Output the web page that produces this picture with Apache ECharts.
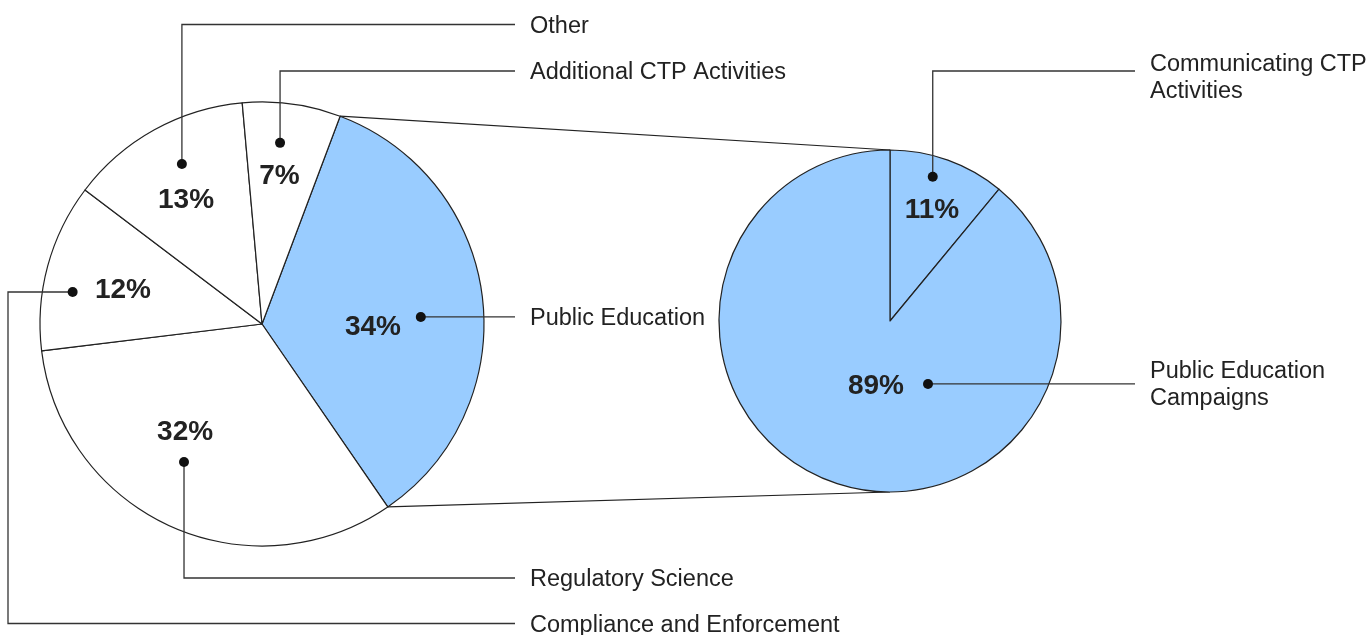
<!DOCTYPE html>
<html>
<head>
<meta charset="utf-8">
<title>CTP spending</title>
<script src="https://cdn.jsdelivr.net/npm/echarts@6/dist/echarts.min.js"></script>
<style>
  html, body { margin: 0; padding: 0; background: #fff; }
  #mainChart { width: 1370px; height: 635px; }
</style>
</head>
<body>
<div id="mainChart"></div>
<script>
// data
var leftNames = ["Public Education", "Regulatory Science", "Compliance and Enforcement", "Other", "Additional CTP Activities"];
var leftValues = [34, 32, 12, 13, 7];
var rightNames = ["Communicating CTP\nActivities", "Public Education\nCampaigns"];
var rightValues = [11, 89];

// layout (not data)
var FONT = "'Liberation Sans', Arial, sans-serif";
var BLUE = "#99ccff";
var leftC = [262, 324], leftR = 222, leftStart = 20.6;   // compass degrees, clockwise from top
var rightC = [890, 321], rightR = 171, rightStart = 0;
// [angle shift from slice middle, radius fraction]
var leftPct = [[8.5, 0.50], [11.2, 0.597], [-1.6, 0.644], [-2.6, 0.653], [-1.05, 0.672]];
var leftDot = [[4.4, 0.716], [5.2, 0.714], [-5.5, 0.865], [2.4, 0.806], [-2.05, 0.82]];
var leftRoute = [{t: "h"}, {t: "v", y: 578}, {t: "lv", x: 8, y: 623.5}, {t: "v", y: 24.5}, {t: "v", y: 71}];
var rightPct = [[0.9, 0.694], [-7.6, 0.39]];
var rightDot = [[-3.3, 0.88], [-50.9, 0.43]];
var rightRoute = [{t: "v", y: 71, dy: 5}, {t: "h", dy: -1}];

function polar(c, r, deg) {
    var a = deg * Math.PI / 180;
    return [c[0] + r * Math.sin(a), c[1] - r * Math.cos(a)];
}
function mids(values, start) {
    var total = 0, acc = 0, out = [];
    for (var i = 0; i < values.length; i++) total += values[i];
    for (var i = 0; i < values.length; i++) {
        out.push(start + (acc + values[i] / 2) / total * 360);
        acc += values[i];
    }
    return out;
}
function edges(values, start) {
    var total = 0, acc = 0, out = [start];
    for (var i = 0; i < values.length; i++) total += values[i];
    for (var i = 0; i < values.length; i++) {
        acc += values[i];
        out.push(start + acc / total * 360);
    }
    return out;
}

var leftMid = mids(leftValues, leftStart);
var rightMid = mids(rightValues, rightStart);

var graphics = [];
var lineStyle = {stroke: "#333", lineWidth: 1.3, fill: null};

function addLeaders(names, mid, dots, routes, c, r, endX, textX) {
    for (var i = 0; i < names.length; i++) {
        var d = polar(c, r * dots[i][1], mid[i] + dots[i][0]);
        var rt = routes[i];
        var pts, ty;
        if (rt.t === "h") {
            pts = [d, [endX, d[1]]];
            ty = d[1];
        } else if (rt.t === "v") {
            pts = [d, [d[0], rt.y], [endX, rt.y]];
            ty = rt.y;
        } else {
            pts = [d, [rt.x, d[1]], [rt.x, rt.y], [endX, rt.y]];
            ty = rt.y;
        }
        graphics.push({type: "polyline", z: 100, shape: {points: pts}, style: lineStyle, silent: true});
        graphics.push({type: "circle", z: 101, shape: {cx: d[0], cy: d[1], r: 5}, style: {fill: "#111"}, silent: true});
        graphics.push({
            type: "text", z: 101, x: textX, y: ty + 2 + (rt.dy || 0), silent: true,
            style: {
                text: names[i], fill: "#222", font: "23.5px " + FONT,
                align: "left", verticalAlign: "middle", lineHeight: 26.5
            }
        });
    }
}
addLeaders(leftNames, leftMid, leftDot, leftRoute, leftC, leftR, 515, 530);
addLeaders(rightNames, rightMid, rightDot, rightRoute, rightC, rightR, 1135, 1150);

// connector lines from the blue slice to the breakdown pie
var le = edges(leftValues, leftStart);
var pA = polar(leftC, leftR, le[0]), pB = polar(leftC, leftR, le[1]);
graphics.push({type: "line", z: 1, shape: {x1: pA[0], y1: pA[1], x2: rightC[0], y2: rightC[1] - rightR}, style: {stroke: "#222", lineWidth: 1.2}, silent: true});
graphics.push({type: "line", z: 1, shape: {x1: pB[0], y1: pB[1], x2: rightC[0], y2: rightC[1] + rightR}, style: {stroke: "#222", lineWidth: 1.2}, silent: true});

function pctLabel(c, r, mid, pos) {
    return function (p) {
        var pt = polar(c, r * pos[p.dataIndex][1], mid[p.dataIndex] + pos[p.dataIndex][0]);
        return {x: pt[0], y: pt[1]};
    };
}

var myChart = echarts.init(document.getElementById("mainChart"));
var labelStyle = {
    show: true, position: "inside", formatter: "{c}%",
    fontSize: 28, fontWeight: "bold", color: "#222", fontFamily: FONT,
    align: "center", verticalAlign: "middle"
};
var option = {
    animation: false,
    backgroundColor: "#fff",
    series: [{
        type: "pie",
        center: leftC,
        radius: leftR,
        startAngle: 90 - leftStart,
        clockwise: true,
        silent: true,
        data: leftNames.map(function (n, i) {
            return {name: n, value: leftValues[i], itemStyle: {color: i === 0 ? BLUE : "#fff"}};
        }),
        itemStyle: {borderColor: "#222", borderWidth: 1.2},
        label: labelStyle,
        labelLine: {show: false},
        labelLayout: pctLabel(leftC, leftR, leftMid, leftPct),
        emphasis: {disabled: true}
    }, {
        type: "pie",
        center: rightC,
        radius: rightR,
        startAngle: 90 - rightStart,
        clockwise: true,
        silent: true,
        data: rightNames.map(function (n, i) {
            return {name: n, value: rightValues[i], itemStyle: {color: BLUE}};
        }),
        itemStyle: {borderColor: "#222", borderWidth: 1.2},
        label: labelStyle,
        labelLine: {show: false},
        labelLayout: pctLabel(rightC, rightR, rightMid, rightPct),
        emphasis: {disabled: true}
    }],
    graphic: graphics
};
myChart.setOption(option);
</script>
</body>
</html>
